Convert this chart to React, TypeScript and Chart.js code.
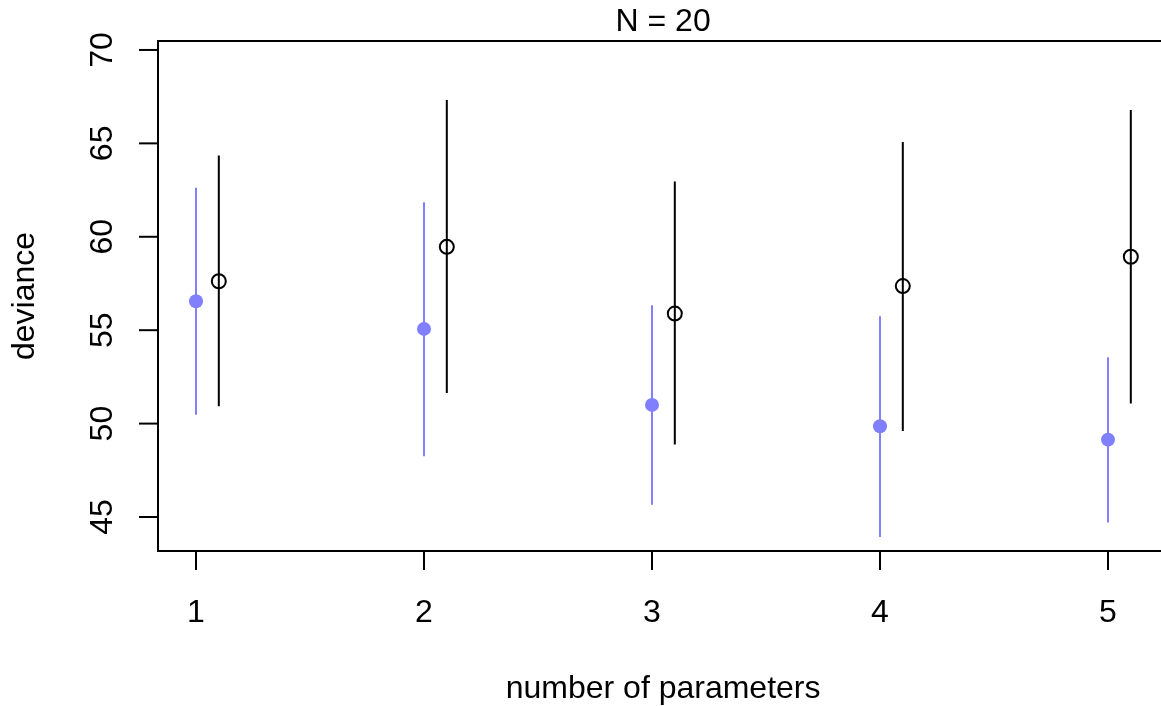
import React, { useEffect, useRef } from "react";
import { Chart, registerables } from "chart.js";

Chart.register(...registerables);

const nParams = [1, 2, 3, 4, 5];
const outOffset = 0.1;
const devInMean = [56.55, 55.07, 51.0, 49.86, 49.14];
const devInLo = [50.48, 48.25, 45.66, 43.93, 44.71];
const devInHi = [62.62, 61.85, 56.34, 55.75, 53.55];
const devOutMean = [57.62, 59.46, 55.89, 57.36, 58.93];
const devOutLo = [50.93, 51.64, 48.88, 49.61, 51.07];
const devOutHi = [64.35, 67.32, 62.96, 65.07, 66.78];
const xTicks = [1, 2, 3, 4, 5];
const yTicks = [45, 50, 55, 60, 65, 70];
const titleText = "N = 20";
const xLabel = "number of parameters";
const yLabel = "deviance";

const X_MIN = 0.8333;
const X_MAX_R = 5.264;
const X_PX_PER_UNIT = 228;
const Y_MIN = 43.18;
const Y_MAX = 70.48;

const BLUE = "#8080FF";
const FONT = '32px "Liberation Sans", Arial, sans-serif';

function bars(xs: number[], lo: number[], hi: number[], off: number) {
  const out: { x: number; y: number | null }[] = [];
  xs.forEach((x, i) => {
    out.push({ x: x + off, y: lo[i] });
    out.push({ x: x + off, y: hi[i] });
    out.push({ x: x + off, y: null });
  });
  return out;
}

const fitPlugin = {
  id: "rFit",
  afterLayout(chart: any) {
    const ca = chart.chartArea;
    const xs = chart.scales.x;
    const want = X_MIN + (ca.right - ca.left) / X_PX_PER_UNIT;
    if (Math.abs(xs.options.max - want) > 1e-6) {
      chart.options.scales.x.max = want;
      xs.options.max = want;
      xs.max = want;
      xs.configure();
    }
  },
};

const axesPlugin = {
  id: "rAxes",
  afterDraw(chart: any) {
    const { ctx, chartArea, scales } = chart;
    const xs = scales.x;
    const ys = scales.y;
    const L = chartArea.left;
    const T = chartArea.top;
    const B = chartArea.bottom;
    const R = chart.width;
    const tick = 19;
    ctx.save();
    ctx.strokeStyle = "#000";
    ctx.lineWidth = 2;
    ctx.lineCap = "butt";
    ctx.beginPath();
    ctx.moveTo(R + 2, T);
    ctx.lineTo(L, T);
    ctx.lineTo(L, B);
    ctx.lineTo(R + 2, B);
    ctx.stroke();
    ctx.fillStyle = "#000";
    ctx.font = FONT;
    yTicks.forEach((v) => {
      const py = ys.getPixelForValue(v);
      ctx.beginPath();
      ctx.moveTo(L - tick, py);
      ctx.lineTo(L, py);
      ctx.stroke();
      ctx.save();
      ctx.translate(112, py);
      ctx.rotate(-Math.PI / 2);
      ctx.textAlign = "center";
      ctx.textBaseline = "alphabetic";
      ctx.fillText(String(v), 0, 0);
      ctx.restore();
    });
    xTicks.forEach((v) => {
      const px = xs.getPixelForValue(v);
      ctx.beginPath();
      ctx.moveTo(px, B);
      ctx.lineTo(px, B + tick);
      ctx.stroke();
      ctx.textAlign = "center";
      ctx.textBaseline = "alphabetic";
      ctx.fillText(String(v), px, 622);
    });
    const cx = xs.getPixelForValue((X_MIN + X_MAX_R) / 2);
    ctx.textAlign = "center";
    ctx.fillText(titleText, cx, 31);
    ctx.fillText(xLabel, cx, 698);
    ctx.save();
    ctx.translate(34, (T + B) / 2);
    ctx.rotate(-Math.PI / 2);
    ctx.textAlign = "center";
    ctx.fillText(yLabel, 0, 0);
    ctx.restore();
    ctx.restore();
  },
};

export default function App() {
  const ref = useRef<HTMLCanvasElement | null>(null);
  useEffect(() => {
    if (!ref.current) return;
    const chart = new Chart(ref.current, {
      type: "scatter",
      data: {
        datasets: [
          {
            data: bars(nParams, devInLo, devInHi, 0) as any,
            showLine: true,
            spanGaps: false,
            borderColor: BLUE,
            borderWidth: 2,
            pointRadius: 0,
          },
          {
            data: bars(nParams, devOutLo, devOutHi, outOffset) as any,
            showLine: true,
            spanGaps: false,
            borderColor: "#000",
            borderWidth: 2,
            pointRadius: 0,
          },
          {
            data: nParams.map((x, i) => ({ x, y: devInMean[i] })),
            pointRadius: 7,
            backgroundColor: BLUE,
            borderColor: BLUE,
            borderWidth: 0,
          },
          {
            data: nParams.map((x, i) => ({ x: x + outOffset, y: devOutMean[i] })),
            pointRadius: 7,
            backgroundColor: "rgba(0,0,0,0)",
            borderColor: "#000",
            borderWidth: 2,
          },
        ],
      },
      options: {
        animation: false,
        responsive: false,
        events: [],
        layout: { padding: { left: 158, top: 41, right: 0, bottom: 155 } },
        plugins: { legend: { display: false }, tooltip: { enabled: false } },
        scales: {
          x: { type: "linear", min: X_MIN, max: 5.2325, display: false },
          y: { type: "linear", min: Y_MIN, max: Y_MAX, display: false },
        },
      },
      plugins: [fitPlugin, axesPlugin],
    });
    return () => chart.destroy();
  }, []);
  return (
    <div style={{ position: "fixed", left: 0, top: 0, width: 1161, height: 706, background: "#fff" }}>
      <canvas ref={ref} width={1161} height={706} style={{ width: 1161, height: 706 }} />
    </div>
  );
}
